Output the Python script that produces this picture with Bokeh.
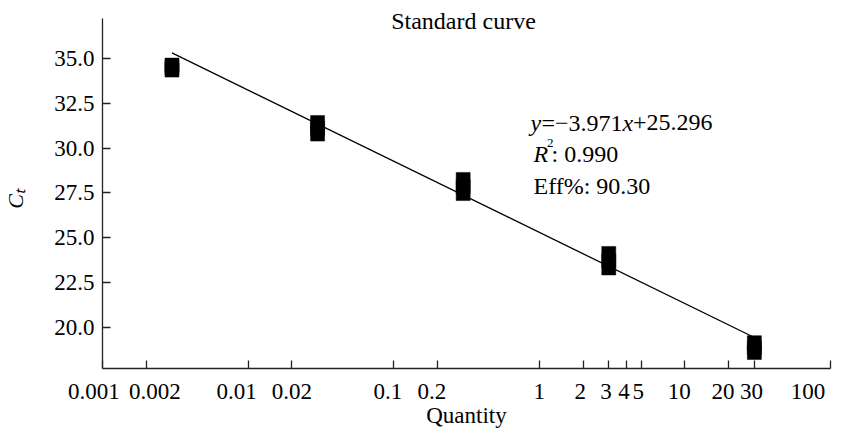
import numpy as np
from bokeh.plotting import figure
from bokeh.models import Range1d, FixedTicker, NumeralTickFormatter, Label, LinearAxis
from bokeh.embed import file_html
from bokeh.resources import INLINE

# qPCR standard curve: template quantity vs threshold cycle (triplicates)
quantity = [0.003, 0.03, 0.3, 3, 30]
ct_rep1 = [34.35, 30.78, 27.46, 23.31, 18.59]
ct_rep2 = [34.50, 31.10, 27.85, 23.70, 18.85]
ct_rep3 = [34.63, 31.42, 28.25, 24.12, 19.14]

slope = -3.971
intercept = 25.296
r_squared = 0.990
efficiency = 90.30

x_tick_values = [0.001, 0.002, 0.01, 0.02, 0.1, 0.2, 1, 2, 3, 4, 5, 10, 20, 30, 100]
x_tick_labels = ["0.001", "0.002", "0.01", "0.02", "0.1", "0.2", "1", "2", "3", "4", "5",
                 "10", "20", "30", "100"]
y_tick_values = [20.0, 22.5, 25.0, 27.5, 30.0, 32.5, 35.0]

FONT = "Liberation Serif"
NBSP = "\u00a0"
# nudge of each x tick label, in non-breaking spaces (negative = pad on the right)
x_label_nudge = [-3, 3, -4, 0, -2, -2, 0, -1, -1, -1, -1, -2, -2, -1, -3]


def nudged(text, n):
    return NBSP * n + text if n > 0 else text + NBSP * (-n)


p = figure(width=842, height=430, x_axis_type="log",
           x_range=Range1d(0.001, 100), y_range=Range1d(17.7, 37.23),
           output_backend="svg", toolbar_location=None)
p.min_border_left = 102
p.min_border_right = 12
p.min_border_top = 18
p.min_border_bottom = 57
p.outline_line_color = None
p.background_fill_color = "white"
p.border_fill_color = "white"
p.xgrid.visible = False
p.ygrid.visible = False

# axes
p.xaxis.ticker = FixedTicker(ticks=x_tick_values, minor_ticks=[])
p.xaxis.major_label_overrides = {v: nudged(s, n)
                                 for v, s, n in zip(x_tick_values, x_tick_labels, x_label_nudge)}
p.yaxis.ticker = FixedTicker(ticks=y_tick_values, minor_ticks=[])
p.yaxis.formatter = NumeralTickFormatter(format="0.0")
for ax in (p.xaxis, p.yaxis):
    ax.axis_line_color = "#222222"
    ax.axis_line_width = 1.3
    ax.major_tick_line_color = "#222222"
    ax.major_tick_line_width = 1.3
    ax.major_tick_in = 8
    ax.major_tick_out = 0
    ax.minor_tick_line_color = None
    ax.major_label_text_font = FONT
    ax.major_label_text_font_size = "23px"
    ax.major_label_text_color = "black"
    ax.axis_label_text_font = FONT
    ax.axis_label_text_color = "black"
p.xaxis.major_label_standoff = 10
p.yaxis.major_label_standoff = 8

p.xaxis.axis_label = "Quantity"
p.xaxis.axis_label_text_font_size = "23px"
p.xaxis.axis_label_text_font_style = "normal"
p.xaxis.axis_label_standoff = -4

p.yaxis.axis_label = "C\u209c" + NBSP * 2
p.yaxis.axis_label_text_font_size = "22px"
p.yaxis.axis_label_text_font_style = "italic"
p.yaxis.axis_label_standoff = 23

# chart title carried by a bare axis along the top edge
top = LinearAxis(ticker=FixedTicker(ticks=[]), axis_line_color=None,
                 major_tick_line_color=None, minor_tick_line_color=None,
                 major_label_text_font_size="0px",
                 axis_label="Standard curve" + NBSP, axis_label_text_font=FONT,
                 axis_label_text_font_size="24px", axis_label_text_font_style="normal",
                 axis_label_text_color="black", axis_label_standoff=-15)
p.add_layout(top, "above")

# fitted line over the measured range
x_fit = np.array([min(quantity), max(quantity)])
y_fit = slope * np.log10(x_fit) + intercept
p.line(x_fit, y_fit, line_color="black", line_width=1.3)

# replicate Ct values
for reps in (ct_rep1, ct_rep2, ct_rep3):
    p.scatter(quantity, reps, marker="square", size=14,
              fill_color="black", line_color="black", line_width=0.5)


def lab(text, x, y, size="24px", style="normal", **kw):
    p.add_layout(Label(text=text, x=x, y=y, x_units="screen", y_units="screen",
                       text_font=FONT, text_font_size=size, text_font_style=style,
                       text_color="black", text_baseline="alphabetic", **kw))


# fit statistics
lab("y", 428, 246, style="italic")
lab(f"=\u2212{abs(slope):.3f}", 439, 246)
lab("x", 520, 246, style="italic")
lab(f"+{intercept:.3f}", 530.5, 246)
lab("R", 431, 214.5, style="italic")
lab("2", 444.5, 225.5, size="13px")
lab(f": {r_squared:.3f}", 449, 214.5)
lab(f"Eff%: {efficiency:.2f}", 431, 183)

open("out.html", "w").write(file_html(p, INLINE))
